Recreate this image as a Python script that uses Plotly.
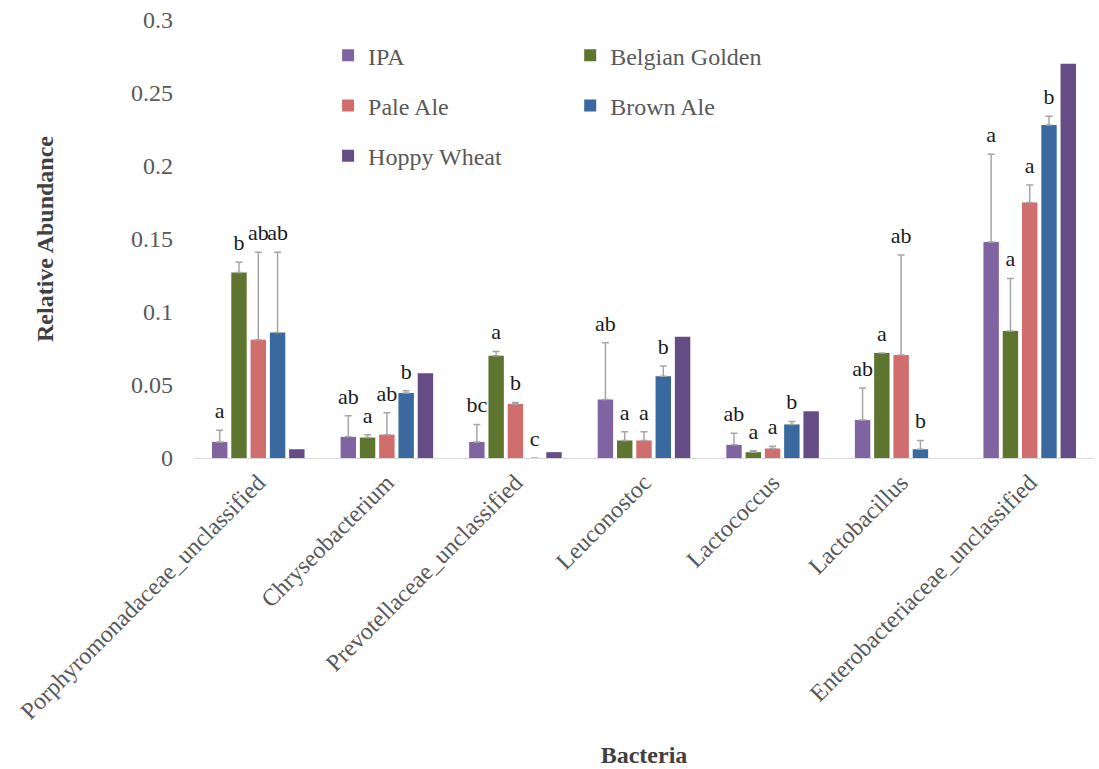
import plotly.graph_objects as go

# Bacterial genera on the x axis
bacteria = [
    "Porphyromonadaceae_unclassified",
    "Chryseobacterium",
    "Prevotellaceae_unclassified",
    "Leuconostoc",
    "Lactococcus",
    "Lactobacillus",
    "Enterobacteriaceae_unclassified",
]

# Mean relative abundance per beer style
ipa = [0.011, 0.0145, 0.011, 0.040, 0.009, 0.026, 0.148]
belgian_golden = [0.127, 0.014, 0.070, 0.012, 0.004, 0.072, 0.087]
pale_ale = [0.081, 0.016, 0.037, 0.012, 0.0065, 0.0705, 0.175]
brown_ale = [0.086, 0.0445, 0.0, 0.056, 0.023, 0.006, 0.228]
hoppy_wheat = [0.006, 0.058, 0.004, 0.083, 0.032, 0.0, 0.270]

# Upper error (standard deviation) per beer style
ipa_err = [0.008, 0.0145, 0.012, 0.039, 0.008, 0.022, 0.060]
belgian_golden_err = [0.007, 0.002, 0.003, 0.006, 0.001, 0.0, 0.036]
pale_ale_err = [0.060, 0.015, 0.001, 0.006, 0.0015, 0.0685, 0.012]
brown_ale_err = [0.055, 0.0015, 0.0, 0.007, 0.002, 0.006, 0.006]

# Significance letters
ipa_sig = ["a", "ab", "bc", "ab", "ab", "ab", "a"]
belgian_golden_sig = ["b", "a", "a", "a", "a", "a", "a"]
pale_ale_sig = ["ab", "ab", "b", "a", "a", "ab", "a"]
brown_ale_sig = ["ab", "b", "c", "b", "b", "b", "b"]
hoppy_wheat_sig = ["", "", "", "", "", "", ""]

series = [
    ("IPA", ipa, ipa_err, ipa_sig, "#8064A2", "legend"),
    ("Belgian Golden", belgian_golden, belgian_golden_err, belgian_golden_sig, "#5E7530", "legend2"),
    ("Pale Ale", pale_ale, pale_ale_err, pale_ale_sig, "#D06E6E", "legend"),
    ("Brown Ale", brown_ale, brown_ale_err, brown_ale_sig, "#3A69A0", "legend2"),
    ("Hoppy Wheat", hoppy_wheat, None, hoppy_wheat_sig, "#654C85", "legend"),
]

SERIF = "Liberation Serif"
GRAY_TEXT = "#595959"

fig = go.Figure()

for i, (name, vals, err, sig, color, leg) in enumerate(series):
    bar = dict(
        x=bacteria,
        y=vals,
        name=name,
        marker=dict(color=color, line=dict(width=0)),
        offsetgroup=str(i),
        alignmentgroup="g",
        legend=leg,
        legendgroup=name,
    )
    if err is not None:
        bar["error_y"] = dict(
            type="data",
            symmetric=False,
            array=err,
            arrayminus=[0] * len(err),
            color="#A6A6A6",
            thickness=1.5,
            width=3.5,
        )
    fig.add_trace(go.Bar(**bar))

# Letters sit on top of each error bar (an invisible marker pads the gap)
for i, (name, vals, err, sig, color, leg) in enumerate(series):
    errs = err if err is not None else [0] * len(vals)
    tops = [v + e for v, e in zip(vals, errs)]
    fig.add_trace(go.Scatter(
        x=bacteria,
        y=tops,
        mode="markers+text",
        marker=dict(size=9, color="rgba(0,0,0,0)"),
        text=sig,
        textposition="top center",
        textfont=dict(family=SERIF, size=22, color="#1a1a1a"),
        offsetgroup=str(i),
        alignmentgroup="g",
        orientation="v",
        showlegend=False,
        hoverinfo="skip",
    ))

fig.update_layout(
    width=1099,
    height=769,
    margin=dict(l=194, r=5, t=20, b=311),
    paper_bgcolor="white",
    plot_bgcolor="white",
    barmode="group",
    bargap=0.25,
    bargroupgap=0.2,
    scattermode="group",
    scattergap=0.25,
    font=dict(family=SERIF, size=24, color=GRAY_TEXT),
    legend=dict(
        x=0.149, y=0.97, xanchor="left", yanchor="top",
        orientation="v",
        font=dict(family=SERIF, size=24, color=GRAY_TEXT),
        tracegroupgap=16,
        bgcolor="rgba(0,0,0,0)",
        itemwidth=30,
    ),
    legend2=dict(
        x=0.418, y=0.97, xanchor="left", yanchor="top",
        orientation="v",
        font=dict(family=SERIF, size=24, color=GRAY_TEXT),
        tracegroupgap=16,
        bgcolor="rgba(0,0,0,0)",
        itemwidth=30,
    ),
    xaxis=dict(
        tickangle=-45,
        showline=True,
        linecolor="#D9D9D9",
        linewidth=1,
        ticks="",
        tickfont=dict(family=SERIF, size=24, color=GRAY_TEXT),
        title=dict(text="<b>Bacteria</b>", font=dict(family=SERIF, size=24, color="#404040"), standoff=22),
    ),
    yaxis=dict(
        range=[0, 0.3],
        tickvals=[0, 0.05, 0.1, 0.15, 0.2, 0.25, 0.3],
        ticktext=["0", "0.05", "0.1", "0.15", "0.2", "0.25", "0.3"],
        showgrid=False,
        zeroline=False,
        showline=False,
        ticks="",
        ticklabelstandoff=20,
        tickfont=dict(family=SERIF, size=24, color=GRAY_TEXT),
        title=dict(text="<b>Relative Abundance</b>", font=dict(family=SERIF, size=24, color="#404040"), standoff=70),
    ),
)

fig.write_html("out.html")
